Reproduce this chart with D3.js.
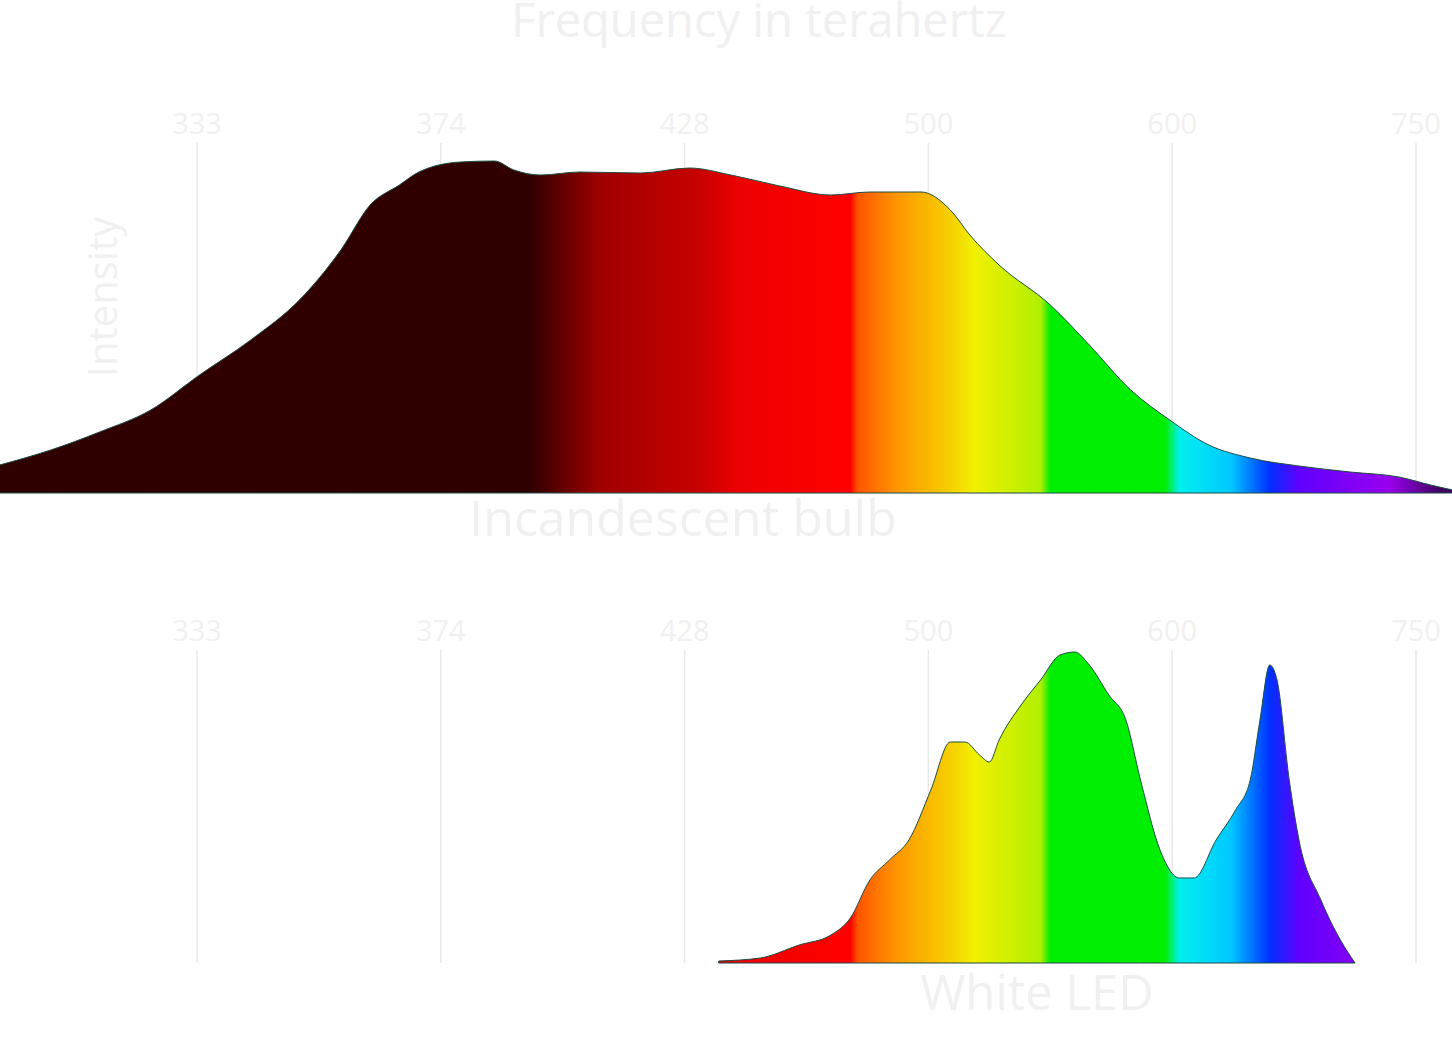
<!DOCTYPE html>
<html><head><meta charset="utf-8">
<script src="https://cdn.jsdelivr.net/npm/d3@7"></script>
<style>body{margin:0;background:#fff}text{font-family:"Open Sans",sans-serif;fill:#f0f0f0}</style>
</head><body><svg id="c" width="1452" height="1060"></svg>
<script>
// frequency tick labels (THz) at wavelengths (nm)
const tickLabels = ["333","374","428","500","600","750"];
const tickWavelengths = [900,800,700,600,500,400];
// Incandescent bulb spectrum
const bulbWavelength = [981,960,940,919,899,878,858,841,829,817,809,792,778,770,759,743,718,698,681,661,640,624,603,591,583,571,550,534,517,501,485,468,448,427,407,394,385];
const bulbIntensity = [28,43,61,83,118,153,193,243,288,308,321,331,332,323,318,321,320,325,318,307,298,301,301,283,258,228,188,148,103,73,48,35,27,21,16,8,3];
// White LED spectrum
const ledWavelength = [686,669,653,640,632,624,616,608,599,591,585,579,575,571,562,554,546,540,534,526,519,513,505,497,491,482,474,468,464,460,457,452,448,439,431,425];
const ledIntensity = [2,5,18,28,45,83,103,123,173,221,221,208,201,223,258,283,308,311,298,268,243,183,113,85,85,123,153,183,243,298,283,183,123,63,23,0];
// spectral colour stops (nm -> colour)
const stopNm = [763,751,735,694,677,632,629,612,591,581,554,550,503,497,476,460,448,411,390];
const stopColor = ["#300000","#600000","#a00000","#c80000","#ee0000","#ff0000","#ff5500","#ff9900","#f5d000","#f0f000","#b0f000","#00ee00","#00ee00","#00f0f0","#00c8ff","#0030ff","#6000ff","#9900ee","#400060"];

const svg = d3.select("#c");
const x = d3.scaleLinear().domain([900,400]).range([197,1416]);
const W = 1452;
const defs = svg.append("defs");
const g = defs.append("linearGradient").attr("id","spec").attr("gradientUnits","userSpaceOnUse")
  .attr("x1",0).attr("x2",W).attr("y1",0).attr("y2",0);
stopNm.forEach((n,i)=>g.append("stop").attr("offset",x(n)/W).attr("stop-color",stopColor[i]));

function panel(wl, val, base, gTop, labY){
  const y = d3.scaleLinear().domain([0,333]).range([base, base-333]);
  tickWavelengths.forEach((w,i)=>{
    svg.append("line").attr("x1",x(w)).attr("x2",x(w)).attr("y1",gTop).attr("y2",base)
      .attr("stroke","#e8e8e8").attr("stroke-width",1.5);
    svg.append("text").attr("x",x(w)).attr("y",labY).attr("text-anchor","middle")
      .attr("dominant-baseline","middle").attr("font-size",29).text(tickLabels[i]);
  });
  const data = wl.map((w,i)=>[w,val[i]]);
  const area = d3.area().x(d=>x(d[0])).y0(base).y1(d=>y(d[1])).curve(d3.curveMonotoneX);
  svg.append("path").datum(data).attr("d",area).attr("fill","url(#spec)")
    .attr("stroke","#1d4d44").attr("stroke-width",1);
}
panel(bulbWavelength, bulbIntensity, 493, 143, 126);
panel(ledWavelength, ledIntensity, 963, 650, 633);

svg.append("text").attr("x",759).attr("y",24).attr("text-anchor","middle").attr("dominant-baseline","middle")
  .attr("font-size",47).text("Frequency in terahertz");
svg.append("text").attr("transform","translate(106,297) rotate(-90)").attr("text-anchor","middle")
  .attr("dominant-baseline","middle").attr("font-size",40).text("Intensity");
svg.append("text").attr("x",683).attr("y",523).attr("text-anchor","middle").attr("dominant-baseline","middle")
  .attr("font-size",50).text("Incandescent bulb");
svg.append("text").attr("x",1037).attr("y",997).attr("text-anchor","middle").attr("dominant-baseline","middle")
  .attr("font-size",49).text("White LED");
</script></body></html>
